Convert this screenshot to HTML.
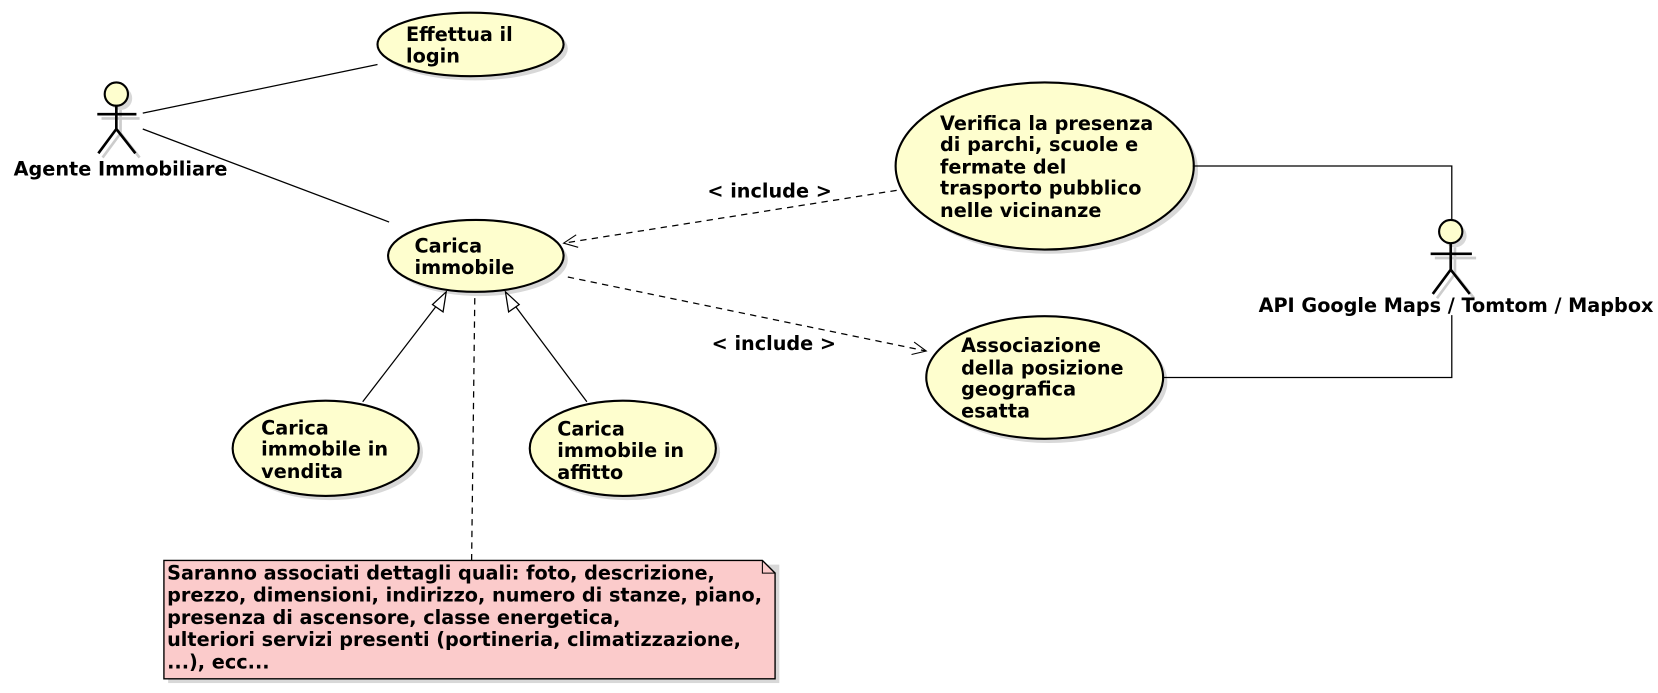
<!DOCTYPE html>
<html><head><meta charset="utf-8"><style>
html,body{margin:0;padding:0;background:#fff;}
svg{display:block;}
text{font-family:"DejaVu Sans","Liberation Sans",sans-serif;font-weight:bold;font-size:18.2px;fill:#000;}
</style></head><body>
<svg width="1658" height="693" viewBox="0 0 1568 655.4" xmlns="http://www.w3.org/2000/svg">
<defs>
<marker id="op" markerWidth="16" markerHeight="14" refX="14" refY="7" orient="auto" markerUnits="userSpaceOnUse">
<path d="M1,1 L14,7 L1,13" fill="none" stroke="#000" stroke-width="1"/></marker>
</defs>
<g fill="#d8d8d8" stroke="none">
<ellipse cx="449" cy="46" rx="88" ry="30"/>
<ellipse cx="454" cy="246" rx="83" ry="34"/>
<ellipse cx="992" cy="161" rx="141" ry="79"/>
<ellipse cx="992" cy="361" rx="112" ry="58"/>
<ellipse cx="312" cy="428" rx="88" ry="45"/>
<ellipse cx="593" cy="428" rx="88" ry="45"/>
<rect x="159" y="534" width="578" height="112"/>
<circle cx="114" cy="93" r="11"/><circle cx="1376" cy="223" r="11"/>
</g>
<g stroke="#ccc" stroke-width="2.5" fill="none">
<path d="M114,104 V126 M96,112 H132 M114,126 L97,149 M114,126 L132,149"/>
<path d="M1376,234 V259 M1357,244 H1396 M1376,259 L1359,282 M1376,259 L1394,282"/>
</g>
<g fill="#FEFECE" stroke="#000" stroke-width="2">
<ellipse cx="445" cy="42" rx="88" ry="30"/>
<ellipse cx="450" cy="242" rx="83" ry="34"/>
<ellipse cx="988" cy="157" rx="141" ry="79"/>
<ellipse cx="988" cy="357" rx="112" ry="58"/>
<ellipse cx="308" cy="424" rx="88" ry="45"/>
<ellipse cx="589" cy="424" rx="88" ry="45"/>
<circle cx="110" cy="89" r="11"/><circle cx="1372" cy="219" r="11"/>
</g>
<path d="M155,530 H721 L733,542 V642 H155 Z" fill="#FBCBCB" stroke="#000" stroke-width="1.3"/>
<path d="M721,530 V542 H733" fill="none" stroke="#000" stroke-width="1"/>
<g stroke="#000" stroke-width="2.5" fill="none">
<path d="M110,100 V122 M92,108 H129 M110,122 L93,145 M110,122 L128,145"/>
<path d="M1372,230 V255 M1353,240 H1392 M1372,255 L1355,278 M1372,255 L1390,278"/>
</g>
<g stroke="#000" stroke-width="1.2" fill="none">
<path d="M135,107 L357,61"/>
<path d="M135,122 L368,210"/>
<path d="M1128,157 H1373 V208"/>
<path d="M1099,357 H1373 V298"/>
<path d="M848,180 L533,230" stroke-dasharray="6,5" marker-end="url(#op)"/>
<path d="M537,262 L876,332" stroke-dasharray="6,5" marker-end="url(#op)"/>
<path d="M449,282 L446,530" stroke-dasharray="6,5"/>
<path d="M343,380 L416,285"/>
<path d="M555,380 L484,285"/>
<path d="M422,276 L409,288 L419,295 Z" fill="#fff"/>
<path d="M478,276 L491,288 L481,295 Z" fill="#fff"/>
</g>
<text x="114" y="166" text-anchor="middle">Agente Immobiliare</text>
<text x="1377" y="295" text-anchor="middle">API Google Maps / Tomtom / Mapbox</text>
<text x="384" y="39">Effettua il</text><text x="384" y="59">login</text>
<text x="392" y="239">Carica</text><text x="392" y="259">immobile</text>
<text x="889" y="123">Verifica la presenza</text>
<text x="889" y="143">di parchi, scuole e</text>
<text x="889" y="164">fermate del</text>
<text x="889" y="184">trasporto pubblico</text>
<text x="889" y="205">nelle vicinanze</text>
<text x="909" y="333">Associazione</text>
<text x="909" y="354">della posizione</text>
<text x="909" y="374">geografica</text>
<text x="909" y="395">esatta</text>
<text x="247" y="411">Carica</text><text x="247" y="431">immobile in</text><text x="247" y="452">vendita</text>
<text x="527" y="412">Carica</text><text x="527" y="432">immobile in</text><text x="527" y="453">affitto</text>
<text x="669" y="187">&lt; include &gt;</text>
<text x="673" y="331">&lt; include &gt;</text>
<text x="158" y="548">Saranno associati dettagli quali: foto, descrizione,</text>
<text x="158" y="569">prezzo, dimensioni, indirizzo, numero di stanze, piano,</text>
<text x="158" y="590">presenza di ascensore, classe energetica,</text>
<text x="158" y="611">ulteriori servizi presenti (portineria, climatizzazione,</text>
<text x="158" y="632">...), ecc...</text>
</svg>
</body></html>
